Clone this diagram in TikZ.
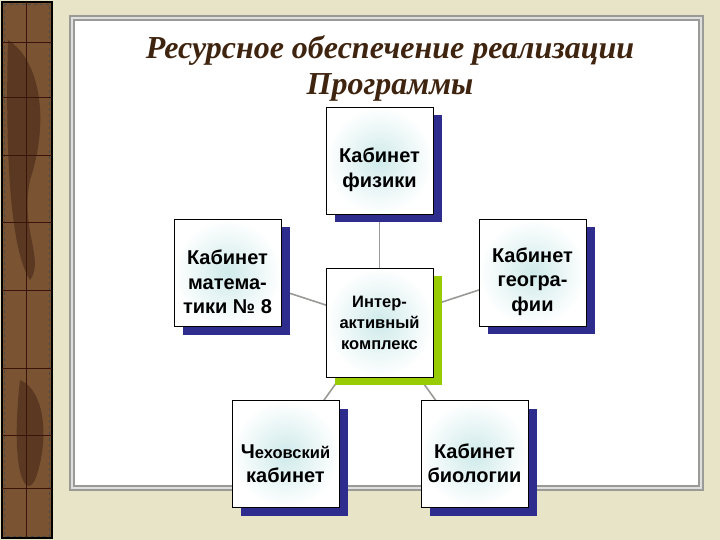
\documentclass[tikz,border=0pt]{standalone}
\usepackage{fontspec}
\setmainfont{Liberation Serif}
\newfontfamily\boxfont{Liberation Sans}
\usetikzlibrary{shadows}
\definecolor{paper}{HTML}{E8E4C8}
\definecolor{strip}{HTML}{7A5432}
\definecolor{stripdark}{HTML}{5A3822}
\definecolor{stripline}{HTML}{3A140A}
\definecolor{framegray}{HTML}{9A9A96}
\definecolor{titlebrown}{HTML}{3F2410}
\definecolor{shadowblue}{HTML}{2E2C8C}
\definecolor{shadowgreen}{HTML}{99CC00}
\definecolor{boxcyan}{HTML}{CFEAEA}
\newcommand{\lowstrut}{\rule{0pt}{33pt}}
\pgfdeclarelayer{back}
\pgfdeclarelayer{links}
\pgfsetlayers{back,links,main}
\tikzset{
  room/.style={draw=black, line width=0.8pt, inner sep=0pt,
    minimum width=107pt, minimum height=107pt, align=center,
    shading=radial, inner color=boxcyan, outer color=white,
    font=\boxfont\bfseries\fontsize{20}{24.5}\selectfont,
    general shadow={fill=shadowblue, shadow xshift=9pt, shadow yshift=-8pt}},
  hub/.style={room, minimum height=109pt,
    font=\boxfont\bfseries\fontsize{16.5}{21}\selectfont,
    general shadow={fill=shadowgreen, shadow xshift=9pt, shadow yshift=-8pt}},
  link/.style={draw=framegray, line width=1.6pt}
}
\begin{document}
\begin{tikzpicture}[x=1pt,y=-1pt]
\begin{pgfonlayer}{back}
% paper and left strip
\fill [paper] (0,0) rectangle (720,540);
\fill [strip] (2,2) rectangle (52,538);
\fill [stripdark] (8,40) .. controls (40,60) and (50,120) .. (30,180)
  .. controls (20,230) and (45,260) .. (30,280) .. controls (10,250) and (5,150) .. (8,40);
\fill [stripdark] (20,380) .. controls (45,390) and (50,440) .. (35,480)
  .. controls (25,500) and (10,470) .. (20,380);
\draw [black, line width=1.5pt] (2,2) rectangle (52,538);
\draw [black!70, line width=0.5pt, dashed] (4.5,4) rectangle (49.5,536);
\draw [stripline, line width=0.6pt] (26,2)--(26,538);
\foreach \yy in {42,97,155,222,290,368,435,488}
  \draw [stripline, line width=0.6pt] (2,\yy)--(52,\yy);
% white panel with double frame
\fill [framegray] (69,15) rectangle (704,491);
\fill [gray!25] (71,17) rectangle (702,489);
\fill [framegray] (73,19) rectangle (700,487);
\fill [white] (75,21) rectangle (698,485);
\end{pgfonlayer}

\node [text=titlebrown, align=center,
  font=\bfseries\itshape\fontsize{32}{36}\selectfont] (title) at (390,68)
  {Ресурсное обеспечение реализации\\Программы};

\node [hub] (inter) at (379.5,322.5) {Интер-\\активный\\комплекс};
\node [room] (phys) at (379.5,160.5) {\lowstrut Кабинет\\физики};
\node [room] (math) at (227.5,273) {\lowstrut Кабинет\\матема-\\тики № 8};
\node [room] (geo) at (532.5,272.5) {\lowstrut Кабинет\\геогра-\\фии};
\node [room] (chekh) at (285.5,454) {\lowstrut Ч{\fontsize{16.5}{24.5}\selectfont еховский}\\кабинет};
\node [room] (bio) at (474.5,454) {\lowstrut Кабинет\\биологии};

\begin{pgfonlayer}{links}
\foreach \room in {phys,math,geo,chekh,bio}
  \draw [link] (inter.center)--(\room.center);
\end{pgfonlayer}
\end{tikzpicture}
\end{document}
